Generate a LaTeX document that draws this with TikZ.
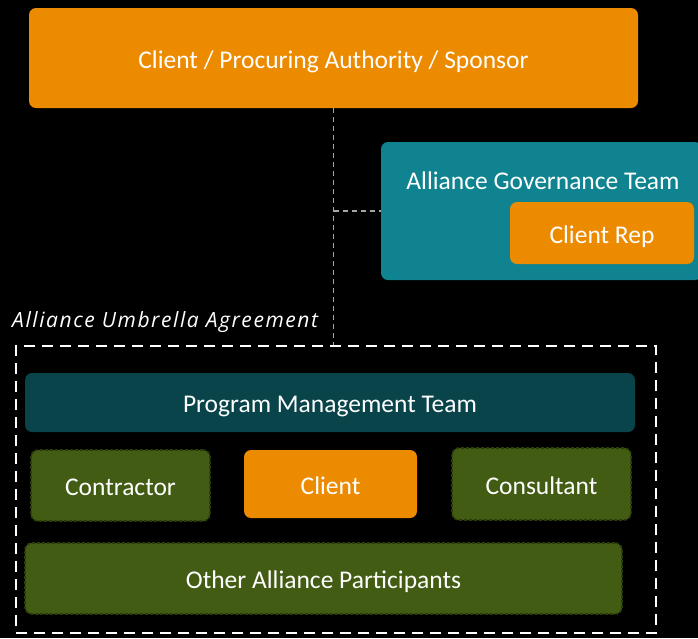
\documentclass[tikz,border=0pt]{standalone}
\usepackage{fontspec}
\setmainfont{Carlito}
\newfontfamily\notefont[LetterSpace=7.5]{Open Sans}
\usepackage{xcolor}
\definecolor{sponsororange}{HTML}{ED8B00}
\definecolor{govteal}{HTML}{0F8390}
\definecolor{pmtteal}{HTML}{08444A}
\definecolor{partgreen}{HTML}{435C14}
\definecolor{partedge}{HTML}{2B3C0C}

\begin{document}
\begin{tikzpicture}[x=1pt, y=-1pt,
    every node/.style={font=\fontsize{25.5}{30}\selectfont, text=white, text height=20pt, text depth=0pt},
    box/.style={rectangle, rounded corners=7pt, inner sep=0pt},
    orangebox/.style={box, fill=sponsororange},
    greenbox/.style={box, fill=partgreen, draw=partedge, line width=1.6pt, dash pattern=on 3pt off 2pt},
    govline/.style={draw=gray!70, line width=1.2pt, dash pattern=on 5pt off 4pt}]
    % background and page size
    \fill[black] (0,0) rectangle (698,638);
    \useasboundingbox (0,0) rectangle (698,638);

    % Sponsor
    \node[orangebox, minimum width=609, minimum height=100] (sponsor) at (333.5,58) {Client / Procuring Authority / Sponsor};

    % Governance team
    \node[box, fill=govteal, minimum width=321, minimum height=138] (agt) at (541.5,211) {};
    \node (agtlabel) at (543,179) {Alliance Governance Team};
    \node[orangebox, minimum width=184, minimum height=62] (clientrep) at (602,233) {Client Rep};

    % Umbrella agreement
    \node[rectangle, draw=white, line width=2.6pt, dash pattern=on 11pt off 7pt,
          minimum width=640, minimum height=287] (umbrella) at (336,489.5) {};
    \node[anchor=base west, inner sep=0pt, text height=, text depth=,
          font=\notefont\itshape\fontsize{21}{24}\selectfont] (umblabel) at (12,327) {Alliance Umbrella Agreement};

    % dashed links
    \draw[govline] (sponsor.south) -- (sponsor.south |- umbrella.north);
    \draw[govline] (sponsor.south |- agt.west) -- (agt.west);

    % Alliance members
    \node[box, fill=pmtteal, minimum width=610, minimum height=59] (pmt) at (330,402.5) {Program Management Team};
    \node[greenbox, minimum width=179, minimum height=71] (contractor) at (120.5,485.5) {Contractor};
    \node[orangebox, minimum width=173, minimum height=68] (client) at (330.5,484) {Client};
    \node[greenbox, minimum width=179, minimum height=72] (consultant) at (541.5,484) {Consultant};
    \node[greenbox, minimum width=597, minimum height=71] (others) at (323.5,578.5) {Other Alliance Participants};
\end{tikzpicture}
\end{document}
